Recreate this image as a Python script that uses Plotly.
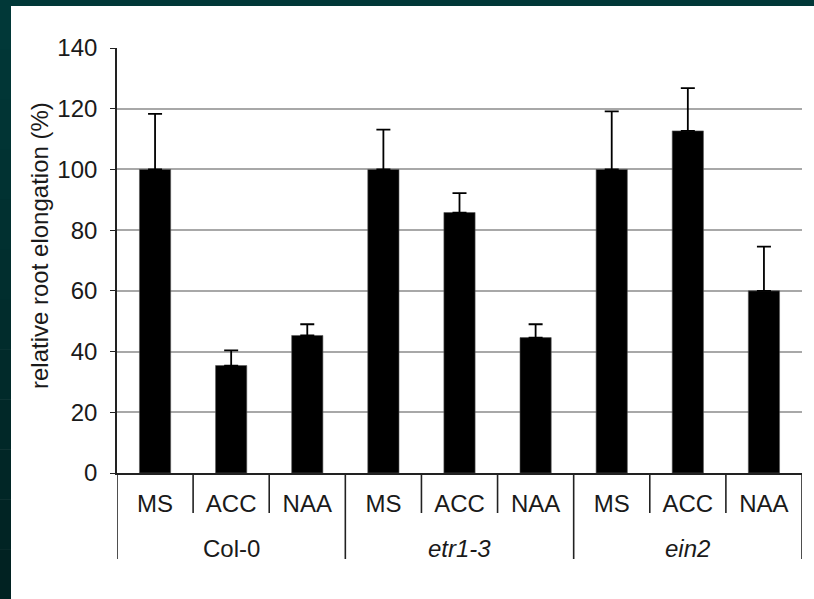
import plotly.graph_objects as go

# ---- data ----
groups = ["Col-0", "etr1-3", "ein2"]
group_italic = [False, True, True]
treatments = ["MS", "ACC", "NAA"]
means = [100, 35.4, 45.3, 100, 85.8, 44.6, 100, 112.7, 60.0]
err_plus = [18.3, 5.0, 3.7, 13.1, 6.4, 4.4, 19.1, 14.1, 14.6]
y_ticks = [0, 20, 40, 60, 80, 100, 120, 140]
y_title = "relative root elongation (%)"

cat_labels = [t for g in groups for t in treatments]
xpos = list(range(len(cat_labels)))

FONT = "Liberation Sans, Arial, sans-serif"
TXT = "#1a1a1a"

W, H = 814, 599
L, R, T, B = 117, 12, 48, 126
pw, ph = W - L - R, H - T - B

def px_x(p):
    return (p - L) / pw

def px_y(p):
    return (H - B - p) / ph

fig = go.Figure()
fig.add_trace(go.Bar(
    x=xpos, y=means, width=0.41,
    marker=dict(color="black", line=dict(width=0.6, color="#555")),
    error_y=dict(type="data", symmetric=False, array=err_plus,
                 arrayminus=[0] * len(means), color="black",
                 thickness=1.8, width=7),
    showlegend=False,
))

shapes = []
n = len(cat_labels)
# separators between categories / groups
for b in range(n + 1):
    xb = b - 0.5
    is_group = (b % len(treatments) == 0)
    y_end = px_y(559) if is_group else px_y(513)
    shapes.append(dict(type="line", xref="x", yref="paper", x0=xb, x1=xb,
                       y0=0, y1=y_end, line=dict(color="#222", width=1.6)))

# dark frame strips (left with slight gradient, top)
nseg = 12
top_c = (1, 56, 56)
bot_c = (1, 34, 34)
for i in range(nseg):
    f = i / (nseg - 1)
    c = tuple(int(round(top_c[k] + (bot_c[k] - top_c[k]) * f)) for k in range(3))
    y_top = i * H / nseg
    y_bot = (i + 1) * H / nseg
    shapes.append(dict(type="rect", xref="paper", yref="paper",
                       x0=px_x(0), x1=px_x(11), y0=px_y(y_bot + 0.5), y1=px_y(y_top),
                       fillcolor="rgb(%d,%d,%d)" % c, line=dict(width=0), layer="above"))
shapes.append(dict(type="rect", xref="paper", yref="paper",
                   x0=px_x(0), x1=px_x(W), y0=px_y(6), y1=px_y(0),
                   fillcolor="rgb(1,56,56)", line=dict(width=0), layer="above"))

annotations = []
for gi, g in enumerate(groups):
    txt = "<i>%s</i>" % g if group_italic[gi] else g
    annotations.append(dict(x=gi * len(treatments) + (len(treatments) - 1) / 2,
                            y=px_y(548), xref="x", yref="paper", text=txt,
                            showarrow=False, font=dict(family=FONT, size=24, color=TXT),
                            xanchor="center", yanchor="middle"))
annotations.append(dict(x=px_x(39), y=px_y(246), xref="paper", yref="paper",
                        text=y_title, textangle=-90, showarrow=False,
                        font=dict(family=FONT, size=24, color=TXT),
                        xanchor="center", yanchor="middle"))

fig.update_layout(
    width=W, height=H,
    margin=dict(l=L, r=R, t=T, b=B, pad=0),
    paper_bgcolor="white", plot_bgcolor="white",
    bargap=0.59,
    shapes=shapes, annotations=annotations,
    xaxis=dict(range=[-0.5, n - 0.5], tickvals=xpos, ticktext=cat_labels,
               showgrid=False, zeroline=False, showline=True, linecolor="#222",
               linewidth=1.6, ticks="", ticklabelstandoff=8,
               tickfont=dict(family=FONT, size=24, color=TXT)),
    yaxis=dict(range=[0, 140], tickvals=y_ticks, showgrid=True,
               gridcolor="#a8a8a8", gridwidth=1.6, zeroline=False,
               showline=True, linecolor="#222", linewidth=1.6,
               ticks="outside", ticklen=5, tickcolor="#222", tickwidth=1.4,
               ticklabelstandoff=8,
               tickfont=dict(family=FONT, size=24, color=TXT)),
)

fig.write_html("out.html")
